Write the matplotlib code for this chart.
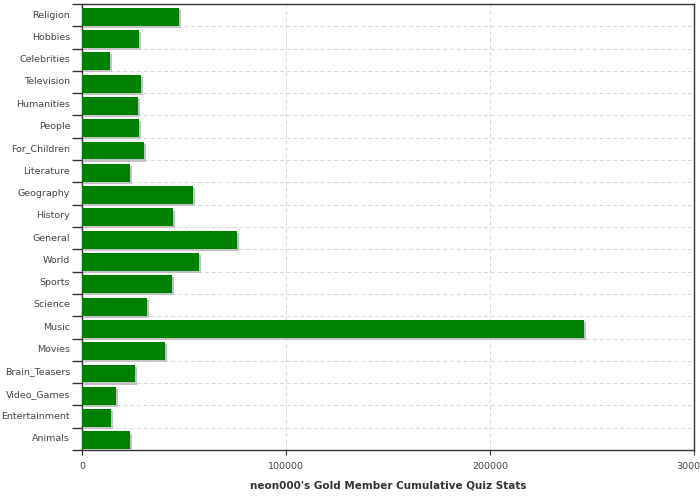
import numpy as np
import matplotlib
matplotlib.use("Agg")
import matplotlib.pyplot as plt
import matplotlib.patheffects as pe

categories = ['Religion', 'Hobbies', 'Celebrities', 'Television', 'Humanities',
              'People', 'For_Children', 'Literature', 'Geography', 'History',
              'General', 'World', 'Sports', 'Science', 'Music', 'Movies',
              'Brain_Teasers', 'Video_Games', 'Entertainment', 'Animals']
values = [47500, 27900, 13700, 28900, 27400,
          27900, 30300, 23500, 54300, 44500,
          75900, 57300, 44000, 31800, 246200, 40600,
          25900, 16600, 14200, 23500]
xticks = [0, 100000, 200000, 300000]
xlabel = "neon000's Gold Member Cumulative Quiz Stats"

plt.rcParams['font.family'] = ['DejaVu Sans']

fig = plt.figure(figsize=(7, 5), dpi=100)
ax = fig.add_axes([82 / 700, 50 / 500, 612 / 700, 446 / 500])

pos = np.arange(len(categories))
bars = ax.barh(pos + 0.07, values, height=0.8, color='#008000', zorder=3)
for b in bars:
    b.set_path_effects([pe.SimplePatchShadow(offset=(1.5, -1.5),
                                             shadow_rgbFace='#c4c4c4', alpha=1),
                        pe.Normal()])

ax.set_xlim(0, 300000)
ax.set_ylim(len(categories) - 0.5, -0.5)

ax.set_xticks(xticks)
ax.set_xticklabels([str(t) for t in xticks])
ax.set_yticks(pos - 0.05)
ax.set_yticklabels(categories)
ax.set_yticks(np.arange(len(categories) + 1) - 0.5, minor=True)

ax.tick_params(axis='y', which='major', length=0, pad=8.5, labelsize=6.8, labelcolor='#444444')
ax.tick_params(axis='y', which='minor', length=7, width=1, color='#333333')
ax.tick_params(axis='x', which='major', length=3.5, width=0.8, color='#333333',
               labelsize=6.8, labelcolor='#444444', pad=5)

ax.grid(True, axis='x', which='major', linestyle=(0, (4, 3)), color='#d8d8d8', lw=0.7, zorder=0)
ax.grid(True, axis='y', which='minor', linestyle=(0, (4, 3)), color='#d4d8dc', lw=0.7, zorder=0)

for s in ax.spines.values():
    s.set_color('#333333')
    s.set_linewidth(1)

ax.set_xlabel(xlabel, fontsize=7.5, fontweight='bold', color='#333333', labelpad=7)

fig.savefig('out.png', dpi=100)
